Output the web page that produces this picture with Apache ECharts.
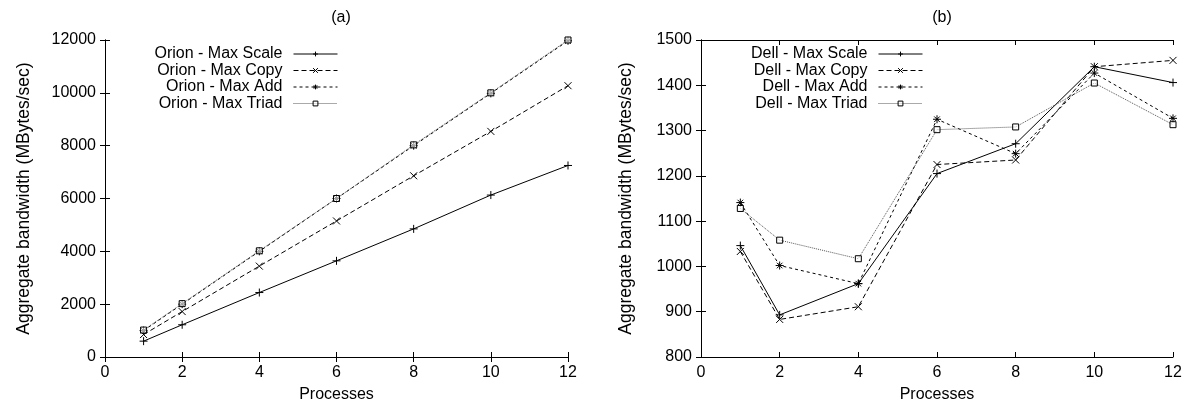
<!DOCTYPE html>
<html>
<head>
<meta charset="utf-8">
<script src="https://cdn.jsdelivr.net/npm/echarts@6/dist/echarts.min.js"></script>
<style>
  html, body { margin: 0; padding: 0; background: #fff; }
  #chart { width: 1190px; height: 408px; }
</style>
</head>
<body>
<div id="chart"></div>
<script>
// processes on the x axis
const processes = [1, 2, 4, 6, 8, 10, 12];

// (a) Orion
const orionNames = ["Orion - Max Scale", "Orion - Max Copy", "Orion - Max Add", "Orion - Max Triad"];
const orionScale = [600, 1220, 2440, 3640, 4850, 6130, 7250];
const orionCopy = [850, 1720, 3440, 5150, 6860, 8540, 10270];
const orionAdd = [1000, 2000, 4000, 6000, 8000, 9980, 11970];
const orionTriad = [1020, 2020, 4020, 6000, 8030, 10000, 12000];

// (b) Dell
const dellNames = ["Dell - Max Scale", "Dell - Max Copy", "Dell - Max Add", "Dell - Max Triad"];
const dellScale = [1046, 893, 962, 1205, 1271, 1441, 1406];
const dellCopy = [1033, 883, 911, 1225, 1235, 1441, 1455];
const dellAdd = [1141, 1002, 962, 1325, 1249, 1427, 1327];
const dellTriad = [1128, 1058, 1017, 1302, 1308, 1405, 1313];

const FONT = "Liberation Sans";
const plus = "path://M0,5L10,5M5,0L5,10";
const cross = "path://M1,1L9,9M9,1L1,9";
const star = "path://M0,5L10,5M5,0L5,10M1.5,1.5L8.5,8.5M8.5,1.5L1.5,8.5";
const box = "path://M0,0L10,0L10,10L0,10Z";

// line look per series: scale, copy, add, triad
const looks = [
  { symbol: plus, size: 8, type: "solid", color: "#000", fill: "#000" },
  { symbol: cross, size: 7, type: [5, 3], color: "#000", fill: "#000" },
  { symbol: star, size: 8, type: [3, 3], color: "#000", fill: "#000" },
  { symbol: box, size: 6, type: [1, 1], color: "#555", fill: "rgba(255,255,255,0.6)" }
];

function pairs(vals) {
  return vals.map((v, i) => [processes[i], v]);
}

function makeSeries(names, sets, g) {
  return sets.map((vals, i) => ({
    name: names[i],
    type: "line",
    xAxisIndex: g * 2,
    yAxisIndex: g * 2,
    data: pairs(vals),
    symbol: looks[i].symbol,
    symbolSize: looks[i].size,
    showAllSymbol: true,
    animation: false,
    lineStyle: { color: looks[i].color, width: 1, type: looks[i].type },
    itemStyle: { color: looks[i].fill, borderColor: "#000", borderWidth: 1 },
    emphasis: { disabled: true },
    z: 2 + i
  }));
}

function makeLegends(names, right) {
  return names.map((n, i) => ({
    data: [n],
    orient: "vertical",
    align: "right",
    right: right,
    top: 46 + i * 16.5,
    padding: 0,
    itemWidth: 44,
    itemHeight: 6,
    itemGap: 0,
    selectedMode: false,
    lineStyle: { width: 1 },
    itemStyle: { borderWidth: 1 },
    textStyle: { fontFamily: FONT, fontSize: 16, color: "#000", lineHeight: 16, padding: [0, 6, 0, 0] }
  }));
}

const axisLine = { show: true, lineStyle: { color: "#000", width: 1 } };
const label = { fontFamily: FONT, fontSize: 16, color: "#000" };
const plain = (v) => String(v);

function xAxes(g) {
  return [
    {
      type: "value", gridIndex: g, min: 0, max: 12, interval: 2, position: "bottom",
      name: "Processes", nameLocation: "middle", nameGap: 30,
      nameTextStyle: label,
      axisLine: axisLine, axisTick: { inside: true, length: 5, lineStyle: { color: "#000" } },
      axisLabel: Object.assign({ margin: 8, formatter: plain }, label), splitLine: { show: false }
    },
    {
      type: "value", gridIndex: g, min: 0, max: 12, interval: 2, position: "top",
      axisLine: axisLine, axisTick: { inside: true, length: 5, lineStyle: { color: "#000" } },
      axisLabel: { show: false }, splitLine: { show: false }
    }
  ];
}

function yAxes(g, min, max, step, gap) {
  return [
    {
      type: "value", gridIndex: g, min: min, max: max, interval: step, position: "left",
      name: "Aggregate bandwidth (MBytes/sec)", nameLocation: "middle", nameGap: gap,
      nameTextStyle: Object.assign({}, label, { fontSize: 17.5 }),
      axisLine: axisLine, axisTick: { inside: true, length: 5, lineStyle: { color: "#000" } },
      axisLabel: Object.assign({ margin: 9, formatter: plain }, label), splitLine: { show: false }
    },
    {
      type: "value", gridIndex: g, min: min, max: max, interval: step, position: "right",
      axisLine: axisLine, axisTick: { inside: true, length: 5, lineStyle: { color: "#000" } },
      axisLabel: { show: false }, splitLine: { show: false }
    }
  ];
}

const chart = echarts.init(document.getElementById("chart"), null, { renderer: "canvas" });
const option = {
  backgroundColor: "#fff",
  animation: false,
  title: [
    { text: "(a)", left: 336, top: 5, textAlign: "center", textStyle: Object.assign({ fontWeight: "normal" }, label) },
    { text: "(b)", left: 937, top: 5, textAlign: "center", textStyle: Object.assign({ fontWeight: "normal" }, label) }
  ],
  legend: makeLegends(orionNames, 852).concat(makeLegends(dellNames, 267)),
  grid: [
    { left: 105, right: 622, top: 40, bottom: 51 },
    { left: 701, right: 17, top: 40, bottom: 51 }
  ],
  xAxis: xAxes(0).concat(xAxes(1)),
  yAxis: yAxes(0, 0, 12000, 2000, 72).concat(yAxes(1, 800, 1500, 100, 66)),
  series: makeSeries(orionNames, [orionScale, orionCopy, orionAdd, orionTriad], 0)
    .concat(makeSeries(dellNames, [dellScale, dellCopy, dellAdd, dellTriad], 1))
};
chart.setOption(option);
</script>
</body>
</html>
